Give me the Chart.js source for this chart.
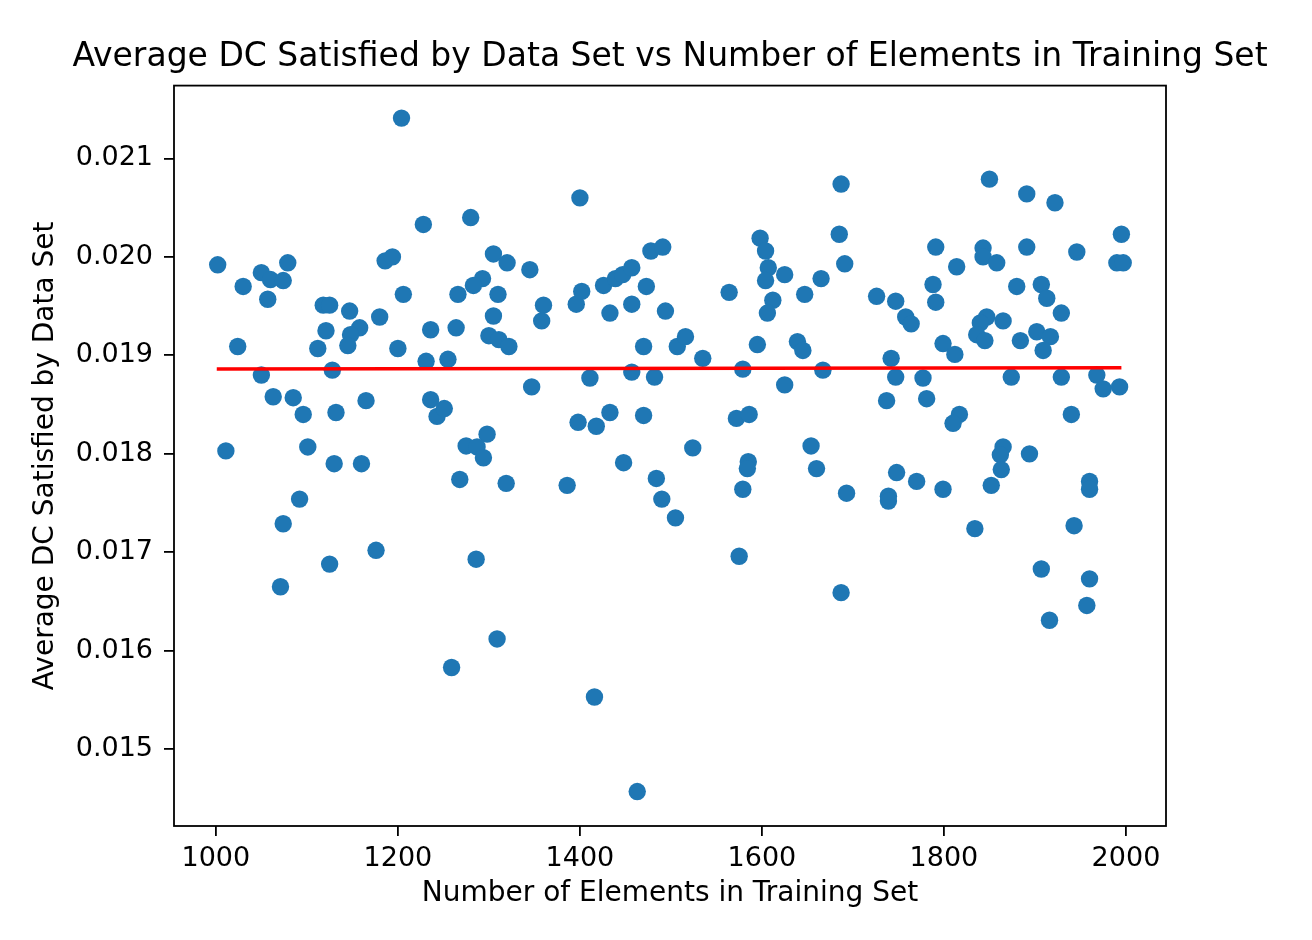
<!DOCTYPE html>
<html>
<head>
<meta charset="utf-8">
<title>Average DC Satisfied by Data Set</title>
<script src="https://cdn.jsdelivr.net/npm/chart.js@4.4.0/dist/chart.umd.min.js"></script>
<style>
  html, body { margin: 0; padding: 0; background: #fff; }
  #wrap { width: 1312px; height: 940px; }
</style>
</head>
<body>
<div id="wrap"><canvas id="chart" width="1312" height="940"></canvas></div>
<script>
// Number of elements in the training set (x) and average DC satisfied (y)
const trainSizes = [
  1204, 1228, 1002, 1030, 1050, 1079, 1060, 1074, 1057, 1118, 1125, 1147, 1180, 1186, 1194,
  1206, 1121, 1158, 1148, 1145, 1112, 1024, 1200, 1236, 1231, 1050, 1128, 1063, 1085, 1096,
  1132, 1165, 1236, 1243, 1251, 1011, 1101, 1130, 1160, 1092, 1074, 1176, 1125, 1071,
  1259, 1309, 1416, 1463,
  1280, 1400, 1305, 1320, 1345, 1293, 1283, 1266, 1310, 1305, 1360, 1358, 1264, 1300, 1311,
  1322, 1255, 1347, 1298, 1275, 1287, 1294, 1268, 1319, 1386, 1286, 1396, 1402, 1426, 1439,
  1447, 1457, 1478, 1491, 1473, 1433, 1457, 1494, 1470, 1507, 1516, 1411, 1457, 1482, 1398,
  1418, 1433, 1470, 1448, 1484, 1490, 1505, 1524,
  1687, 1685, 1691, 1598, 1604, 1607, 1604, 1625, 1665, 1564, 1647, 1612, 1606, 1726, 1747,
  1758, 1764, 1791, 1788, 1791, 1535, 1595, 1639, 1645, 1579, 1667, 1625, 1742, 1747, 1777,
  1737, 1781, 1799, 1572, 1586, 1654, 1660, 1585, 1584, 1579, 1693, 1748, 1770, 1739, 1739,
  1799, 1575, 1687,
  1850, 1891, 1922, 1995, 1843, 1843, 1858, 1891, 1946, 1990, 1997, 1814, 1880, 1907, 1913,
  1929, 1847, 1840, 1836, 1845, 1865, 1884, 1902, 1917, 1909, 1812, 1874, 1929, 1968, 1975,
  1993, 1817, 1810, 1940, 1865, 1862, 1863, 1894, 1852, 1960, 1960, 1834, 1943, 1907, 1960,
  1916, 1957
];
const avgDcSatisfied = [
  0.02141, 0.02033, 0.01992, 0.01970, 0.01984, 0.01994, 0.01977, 0.01976, 0.01957, 0.01951, 0.01951, 0.01945, 0.01939, 0.01996, 0.02000,
  0.01962, 0.01925, 0.01928, 0.01921, 0.01910, 0.01907, 0.01909, 0.01907, 0.01926, 0.01894, 0.01880, 0.01885, 0.01858, 0.01857, 0.01840,
  0.01842, 0.01854, 0.01855, 0.01838, 0.01846, 0.01803, 0.01807, 0.01790, 0.01790, 0.01754, 0.01729, 0.01702, 0.01688, 0.01665,
  0.01583, 0.01612, 0.01553, 0.01457,
  0.02040, 0.02060, 0.02003, 0.01994, 0.01987, 0.01978, 0.01971, 0.01962, 0.01962, 0.01940, 0.01951, 0.01935, 0.01928, 0.01920, 0.01916,
  0.01909, 0.01896, 0.01868, 0.01820, 0.01808, 0.01807, 0.01796, 0.01774, 0.01770, 0.01768, 0.01693, 0.01952, 0.01965, 0.01971, 0.01978,
  0.01982, 0.01989, 0.02006, 0.02010, 0.01970, 0.01943, 0.01952, 0.01945, 0.01909, 0.01909, 0.01919, 0.01877, 0.01883, 0.01878, 0.01832,
  0.01828, 0.01842, 0.01839, 0.01791, 0.01775, 0.01754, 0.01735, 0.01806,
  0.02074, 0.02023, 0.01993, 0.02019, 0.02006, 0.01989, 0.01976, 0.01982, 0.01978, 0.01964, 0.01962, 0.01956, 0.01943, 0.01960, 0.01955,
  0.01939, 0.01932, 0.02010, 0.01972, 0.01954, 0.01897, 0.01911, 0.01914, 0.01905, 0.01886, 0.01885, 0.01870, 0.01897, 0.01878, 0.01877,
  0.01854, 0.01856, 0.01912, 0.01836, 0.01840, 0.01808, 0.01785, 0.01792, 0.01785, 0.01764, 0.01760, 0.01781, 0.01772, 0.01757, 0.01752,
  0.01764, 0.01696, 0.01659,
  0.02079, 0.02064, 0.02055, 0.02023, 0.02009, 0.02000, 0.01994, 0.02010, 0.02005, 0.01994, 0.01994, 0.01990, 0.01970, 0.01972, 0.01958,
  0.01943, 0.01939, 0.01933, 0.01921, 0.01915, 0.01935, 0.01915, 0.01924, 0.01919, 0.01905, 0.01901, 0.01878, 0.01878, 0.01880, 0.01866,
  0.01868, 0.01840, 0.01831, 0.01840, 0.01807, 0.01799, 0.01784, 0.01800, 0.01768, 0.01772, 0.01764, 0.01724, 0.01727, 0.01683, 0.01673,
  0.01631, 0.01646
];

// Fitted trend line (end points)
const fitSizes = [1001, 1995];
const fitValues = [0.018862, 0.018875];

// Axis ticks
const xTickValues = [1000, 1200, 1400, 1600, 1800, 2000];
const yTickValues = [0.015, 0.016, 0.017, 0.018, 0.019, 0.020, 0.021];

const FONT = 'DejaVu Sans';

// box around the plot area, like matplotlib spines
const framePlugin = {
  id: 'frame',
  afterDraw(chart) {
    const { ctx, chartArea: a } = chart;
    ctx.save();
    ctx.strokeStyle = '#000';
    ctx.lineWidth = 1.8;
    ctx.strokeRect(a.left, a.top, a.right - a.left, a.bottom - a.top);
    ctx.restore();
  }
};

const scatterPoints = trainSizes.map((x, i) => ({ x: x, y: avgDcSatisfied[i] }));
const fitPoints = fitSizes.map((x, i) => ({ x: x, y: fitValues[i] }));

const ctx = document.getElementById('chart').getContext('2d');
new Chart(ctx, {
  type: 'scatter',
  data: {
    datasets: [
      {
        type: 'line',
        data: fitPoints,
        borderColor: '#ff0000',
        borderWidth: 3.6,
        pointRadius: 0,
        fill: false,
        order: 0
      },
      {
        data: scatterPoints,
        backgroundColor: '#1f77b4',
        borderWidth: 0,
        pointRadius: 8.7,
        pointHoverRadius: 8.7,
        order: 1
      }
    ]
  },
  options: {
    responsive: false,
    animation: false,
    devicePixelRatio: 1,
    layout: { padding: { left: 28, right: 0, top: 0, bottom: 0 } },
    plugins: {
      legend: { display: false },
      tooltip: { enabled: false },
      title: {
        display: true,
        text: 'Average DC Satisfied by Data Set vs Number of Elements in Training Set',
        color: '#000',
        font: { family: FONT, size: 33, weight: 'normal' },
        padding: { top: 38, bottom: 8 }
      }
    },
    scales: {
      x: {
        type: 'linear',
        min: 954,
        max: 2044,
        afterBuildTicks: s => { s.ticks = xTickValues.map(v => ({ value: v })); },
        afterFit: s => { s.height = 114; },
        grid: { drawOnChartArea: false, drawTicks: true, tickLength: 10, color: '#000', lineWidth: 1.8 },
        border: { display: false },
        ticks: {
          color: '#000',
          font: { family: FONT, size: 27 },
          padding: 7,
          maxRotation: 0,
          callback: v => String(v)
        },
        title: {
          display: true,
          text: 'Number of Elements in Training Set',
          color: '#000',
          font: { family: FONT, size: 28 },
          padding: { top: 0, bottom: 29 }
        }
      },
      y: {
        type: 'linear',
        min: 0.01422,
        max: 0.02174,
        afterBuildTicks: s => { s.ticks = yTickValues.map(v => ({ value: v })); },
        afterFit: s => { s.width = 146; },
        grid: { drawOnChartArea: false, drawTicks: true, tickLength: 10, color: '#000', lineWidth: 1.8 },
        border: { display: false },
        ticks: {
          color: '#000',
          font: { family: FONT, size: 27 },
          padding: 11,
          callback: v => v.toFixed(3)
        },
        title: {
          display: true,
          text: 'Average DC Satisfied by Data Set',
          color: '#000',
          font: { family: FONT, size: 28 },
          padding: { top: 1, bottom: 0 }
        }
      },
      y2: {
        type: 'linear',
        position: 'right',
        display: true,
        grid: { display: false },
        border: { display: false },
        ticks: { display: false },
        afterFit: s => { s.width = 146; }
      }
    }
  },
  plugins: [framePlugin]
});
</script>
</body>
</html>
